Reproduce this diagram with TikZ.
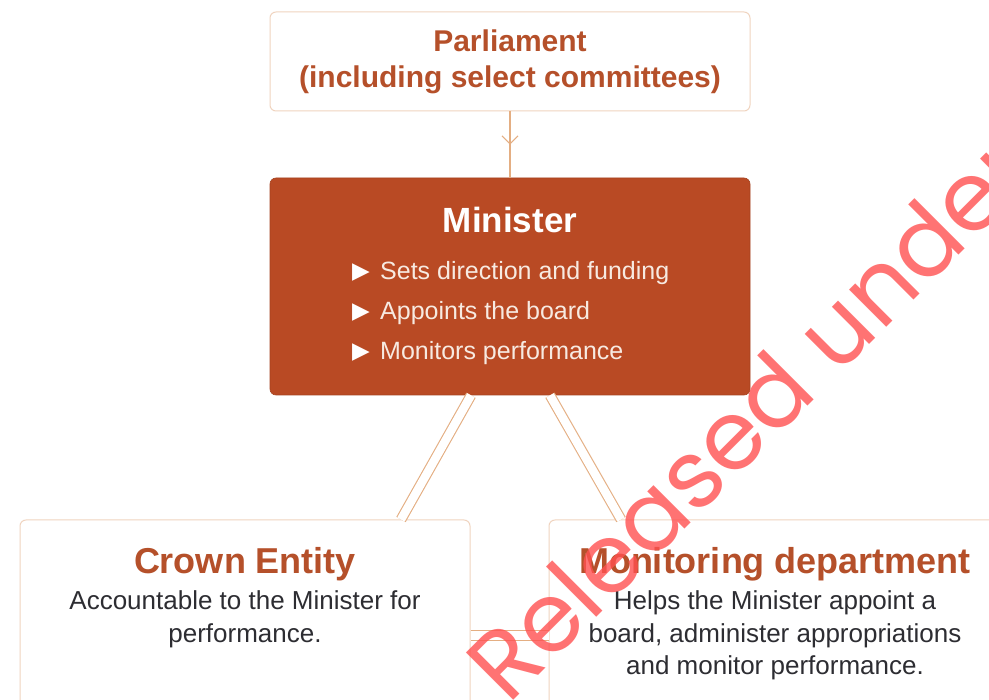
\documentclass[tikz,border=0pt]{standalone}
\usepackage{fontspec}
\setmainfont{Liberation Sans}
\newfontfamily\symfont{DejaVu Sans}
\newfontfamily\wmfont{Poppins}
\usetikzlibrary{arrows.meta,decorations.markings}
\definecolor{rust}{RGB}{185,74,36}
\definecolor{titlebrown}{RGB}{181,80,42}
\definecolor{boxline}{RGB}{240,212,192}
\definecolor{conn}{RGB}{228,174,130}
\definecolor{bodytext}{RGB}{45,45,50}
\definecolor{bullettext}{RGB}{247,234,225}
\definecolor{wm}{RGB}{255,80,80}
\tikzset{
  lightbox/.style={draw=boxline, line width=1pt, fill=white, rounded corners=6pt, inner sep=0pt},
  darkbox/.style={draw=rust!90!black, line width=0.6pt, fill=rust, rounded corners=6pt, inner sep=0pt},
  titletxt/.style={text=titlebrown, font=\bfseries\fontsize{30}{36}\selectfont, anchor=base, inner sep=0pt},
  headtxt/.style={text=titlebrown, font=\bfseries\fontsize{36}{40}\selectfont, anchor=base, inner sep=0pt},
  bodytxt/.style={text=bodytext, font=\fontsize{26}{32}\selectfont, anchor=base, inner sep=0pt},
  bullettxt/.style={text=bullettext, font=\fontsize{25}{30}\selectfont, anchor=base west, inner sep=0pt},
  bulletmark/.style={text=white, font=\symfont\fontsize{23}{24}\selectfont, anchor=base west, inner sep=0pt},
  connline/.style={draw=conn, line width=1.3pt},
  dbl/.style={draw=conn, line width=1.1pt, double=white, double distance=8.5pt},
  midarrow/.style={postaction={decorate}, decoration={markings,
     mark=at position 0.5 with {\arrow{Straight Barb[length=8pt,width=16pt,line width=1.1pt]}}}},
}
\begin{document}
\begin{tikzpicture}[x=1pt,y=-1pt]
\useasboundingbox (0,0) rectangle (989,700);
\clip (0,0) rectangle (989,700);
\fill[white] (0,0) rectangle (989,700);

% boxes
\node[lightbox, minimum width=480pt, minimum height=99pt] (parl) at (510,61.5) {};
\node[darkbox, minimum width=480pt, minimum height=217pt] (min) at (510,286.5) {};
\node[lightbox, minimum width=450pt, minimum height=200pt] (crown) at (245,620) {};
\node[lightbox, minimum width=452pt, minimum height=200pt] (mon) at (775,620) {};

% connectors
\draw[connline, midarrow] (parl.south) -- (min.north);
\coordinate (mL) at ([xshift=-39pt]min.south);
\coordinate (mR) at ([xshift=40pt]min.south);
\coordinate (cT) at ([xshift=156pt]crown.north);
\coordinate (dT) at ([xshift=-154pt]mon.north);
\draw[dbl] (mL) -- (cT);
\draw[dbl] (mR) -- (dT);
\draw[dbl] ([yshift=-15.5pt]crown.east) -- ([yshift=-15.5pt]mon.west);

% Parliament text
\node[titletxt] (p1) at (510,52) {Parliament};
\node[titletxt] (p2) at (510,88) {(including select committees)};

% Minister text
\node[text=white, font=\bfseries\fontsize{35}{40}\selectfont, anchor=base, inner sep=0pt] (mt) at (510,233) {Minister};
\node[bulletmark] (b1) at (352,279) {▶};
\node[bullettxt] (t1) at (380,280) {Sets direction and funding};
\node[bulletmark] (b2) at (352,319) {▶};
\node[bullettxt] (t2) at (380,320) {Appoints the board};
\node[bulletmark] (b3) at (352,359) {▶};
\node[bullettxt] (t3) at (380,360) {Monitors performance};

% Crown entity text
\node[headtxt] (ct) at (245,574) {Crown Entity};
\node[bodytxt] (c1) at (245,610) {Accountable to the Minister for};
\node[bodytxt] (c2) at (245,642) {performance.};

% Monitoring department text
\node[headtxt] (dt) at (775,574) {Monitoring department};
\node[bodytxt] (d1) at (775,610) {Helps the Minister appoint a};
\node[bodytxt] (d2) at (775,642) {board, administer appropriations};
\node[bodytxt] (d3) at (775,674) {and monitor performance.};

% watermark
\node[text=wm, opacity=0.8, font=\wmfont\fontsize{96}{106}\selectfont, rotate=45, anchor=base west, inner sep=0pt] (wmk) at (508,706) {Released under};
\end{tikzpicture}
\end{document}
